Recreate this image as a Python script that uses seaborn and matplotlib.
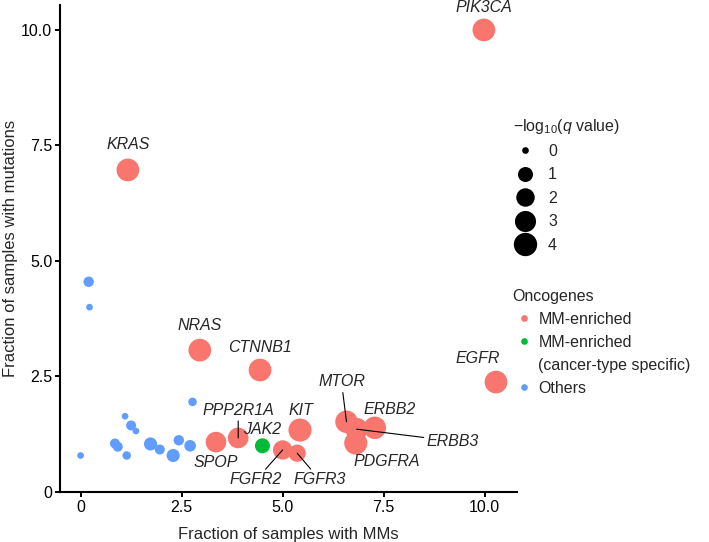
import numpy as np
import pandas as pd
import seaborn as sns
import matplotlib.pyplot as plt
from matplotlib.colors import FuncNorm
from matplotlib.lines import Line2D

# one row per oncogene (unnamed ones are the "Others")
genes = ["PIK3CA", "KRAS", "NRAS", "CTNNB1", "EGFR", "PPP2R1A", "SPOP", "KIT",
         "FGFR2", "FGFR3", "MTOR", "ERBB3", "ERBB2", "PDGFRA", "JAK2"] + [""] * 15
mm_frac = [9.98, 1.17, 2.95, 4.44, 10.28, 3.90, 3.35, 5.43, 5.00, 5.36, 6.58, 6.83, 7.28, 6.81, 4.50,
           2.77, 1.10, 1.25, 1.37, 0.85, 0.92, 1.14, 1.73, 1.96, 2.29, 2.43, 2.71, 0.00, 0.20, 0.22]
mut_frac = [10.0, 6.97, 3.07, 2.64, 2.38, 1.17, 1.08, 1.34, 0.91, 0.84, 1.52, 1.36, 1.39, 1.06, 1.00,
            1.95, 1.64, 1.44, 1.32, 1.05, 0.98, 0.79, 1.04, 0.92, 0.79, 1.12, 1.00, 0.79, 4.55, 4.00]
neg_log_q = [3.7, 3.7, 3.7, 3.7, 3.7, 2.8, 2.8, 3.9, 2.3, 1.6, 3.6, 3.6, 3.6, 3.9, 1.0,
             0.05, 0.0, 0.16, 0.0, 0.16, 0.16, 0.05, 0.6, 0.16, 0.6, 0.2, 0.35, 0.0, 0.2, 0.0]
group = ["MM-enriched"] * 14 + ["MM-enriched (cancer-type specific)"] + ["Others"] * 15

group_order = ["MM-enriched", "MM-enriched (cancer-type specific)", "Others"]
palette = {"MM-enriched": "#F8766D",
           "MM-enriched (cancer-type specific)": "#00BA38",
           "Others": "#619CFF"}
size_breaks = [0, 1, 2, 3, 4]
tick_vals = [0, 2.5, 5.0, 7.5, 10.0]
tick_labels = ["0", "2.5", "5.0", "7.5", "10.0"]

# label offsets in points (dx, dy) from the point
label_offsets = {
    "PIK3CA": (0, 16.3), "KRAS": (0, 18), "NRAS": (0, 18), "CTNNB1": (0, 16.5),
    "EGFR": (-13, 17), "SPOP": (0, -14.4), "KIT": (0.7, 14.4), "JAK2": (0, 11.5),
    "ERBB2": (10.8, 13), "PDGFRA": (22, -13.5), "PPP2R1A": (0, 20),
    "MTOR": (-3.6, 28.8), "ERBB3": (69.5, -8.6), "FGFR2": (-19.2, -21.6),
    "FGFR3": (16.3, -19.2),
}
with_segment = {"PPP2R1A", "MTOR", "ERBB3", "FGFR2", "FGFR3"}

FS = 11.5
D_MIN, D_MAX = 4.8, 16.8  # marker diameters (pt) for q-score 0 and 4


def marker_area(v):
	v = np.clip(np.asarray(v, dtype=float), 0, 4)
	return (D_MIN + (D_MAX - D_MIN) * np.sqrt(v / 4)) ** 2


def marker_area_inv(a):
	return 4 * ((np.sqrt(np.asarray(a, dtype=float)) - D_MIN) / (D_MAX - D_MIN)) ** 2


def main():
	sns.set_theme(style="ticks")
	plt.rcParams["font.family"] = ["Liberation Sans", "DejaVu Sans"]
	plt.rcParams["mathtext.fontset"] = "custom"
	plt.rcParams["mathtext.rm"] = "Liberation Sans"
	plt.rcParams["mathtext.it"] = "Liberation Sans:italic"

	df = pd.DataFrame({"gene": genes, "mm": mm_frac, "mut": mut_frac,
	                   "q": neg_log_q, "group": group})

	fig = plt.figure(figsize=(7.09, 5.42), dpi=100)
	ax = fig.add_axes([60 / 709, 50 / 542, 457 / 709, 487 / 542])

	size_norm = FuncNorm((marker_area, marker_area_inv), vmin=0, vmax=4)
	sns.scatterplot(data=df, x="mm", y="mut", hue="group", hue_order=group_order,
	                palette=palette, size="q", sizes=(marker_area(0), marker_area(4)),
	                size_norm=size_norm, linewidth=0, alpha=1, legend=False, ax=ax, zorder=2)

	# gene labels
	for g, x, y in zip(df["gene"], df["mm"], df["mut"]):
		if not g:
			continue
		kw = {}
		if g in with_segment:
			kw["arrowprops"] = dict(arrowstyle="-", color="black", lw=0.8, shrinkA=0, shrinkB=0)
		ax.annotate(g, (x, y), xytext=label_offsets[g], textcoords="offset points",
		            ha="center", va="center", fontstyle="italic", fontsize=FS,
		            annotation_clip=False, zorder=3, **kw)

	ax.set_xlim(-0.51, 10.8)
	ax.set_ylim(0, 10.54)
	ax.set_xticks(tick_vals, tick_labels)
	ax.set_yticks(tick_vals, tick_labels)
	ax.tick_params(length=3.6, width=1.4, labelsize=FS, pad=2, color="black", labelcolor="black")
	sns.despine(ax=ax)
	for s in ["left", "bottom"]:
		ax.spines[s].set_linewidth(1.5)
		ax.spines[s].set_color("black")
	ax.set_xlabel("Fraction of samples with MMs", fontsize=12, labelpad=9)
	ax.set_ylabel("Fraction of samples with mutations", fontsize=12, labelpad=2.5)

	# size legend
	size_handles = [Line2D([], [], ls="", marker="o", color="black", markeredgewidth=0,
	                       markersize=np.sqrt(marker_area(v))) for v in size_breaks]
	fig.legend(size_handles, [str(v) for v in size_breaks], title=r"$-$log$_{10}$($q$ value)",
	           loc="upper left", bbox_to_anchor=(512.7 / 709, 1 - 116.5 / 542), frameon=False,
	           fontsize=FS, title_fontsize=FS, handlelength=1.54, handletextpad=0.67,
	           labelspacing=0.53, borderpad=0, borderaxespad=0, alignment="left")

	# colour legend
	hue_handles = [Line2D([], [], ls="", marker="o", color=palette[k], markeredgewidth=0,
	                      markersize=D_MIN) for k in group_order]
	hue_handles.insert(2, Line2D([], [], ls="", marker=""))
	hue_labels = ["MM-enriched", "MM-enriched", "(cancer-type specific)", "Others"]
	fig.legend(hue_handles, hue_labels, title="Oncogenes",
	           loc="upper left", bbox_to_anchor=(512.7 / 709, 1 - 289 / 542), frameon=False,
	           fontsize=FS, title_fontsize=FS, handlelength=1.41, handletextpad=0.2,
	           labelspacing=0.5, borderpad=0, borderaxespad=0, alignment="left")

	fig.savefig("out.png", dpi=100)


if __name__ == "__main__":
	main()
